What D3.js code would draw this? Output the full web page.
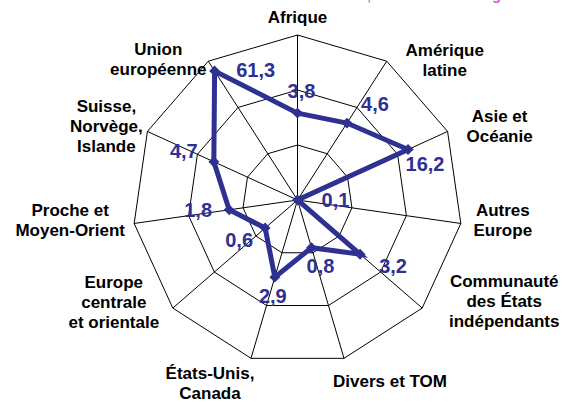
<!DOCTYPE html>
<html>
<head>
<meta charset="utf-8">
<script src="https://cdn.jsdelivr.net/npm/d3@7"></script>
<style>
  html, body { margin: 0; padding: 0; background: #fff; }
  svg text { font-family: "Liberation Sans", Arial, sans-serif; font-weight: bold; }
</style>
</head>
<body>
<div id="chart"></div>
<script>
const categories = [
  ["Afrique"],
  ["Amérique", "latine"],
  ["Asie et", "Océanie"],
  ["Autres", "Europe"],
  ["Communauté", "des États", "indépendants"],
  ["Divers et TOM"],
  ["États-Unis,", "Canada"],
  ["Europe", "centrale", "et orientale"],
  ["Proche et", "Moyen-Orient"],
  ["Suisse,", "Norvège,", "Islande"],
  ["Union", "européenne"]
];
const values = [3.8, 4.6, 16.2, 0.1, 3.2, 0.8, 2.9, 0.6, 1.8, 4.7, 61.3];
const valueLabels = ["3,8", "4,6", "16,2", "0,1", "3,2", "0,8", "2,9", "0,6", "1,8", "4,7", "61,3"];
const ringTicks = [1, 10, 100];
const titleText = "Destinations, en % de la valeur globale";

// layout: offsets of labels (block centre from outer vertex, value label from point)
const catOffsets = [[0, -18], [58, -1], [52, -5], [42, -3], [82, -7], [46, 23],
  [-41, 25], [-59, -6], [-64, -3], [-41, -5], [-50, -2]];
const valOffsets = [[4, -15], [28, -12], [17, 21], [38, 7], [33, 19], [9, 25],
  [-2, 26], [-26, 19], [-31, 7], [-30, -4], [41, 6]];

const width = 563, height = 402;
const cx = 297.5, cy = 200, R = 165;
const blue = "#2e3192";
const n = values.length;

const svg = d3.select("#chart").append("svg")
  .attr("width", width).attr("height", height);
svg.append("rect").attr("width", width).attr("height", height).attr("fill", "#fff");

const r = d3.scaleLog().domain([0.1, 100]).range([0, R]);
const angle = d3.scaleLinear().domain([0, n]).range([0, 2 * Math.PI]);
const px = (i, rad) => cx + rad * Math.sin(angle(i));
const py = (i, rad) => cy - rad * Math.cos(angle(i));

// title, cut off at the top like the source
svg.append("text")
  .attr("x", 283).attr("y", 0)
  .attr("font-size", 14)
  .attr("fill", "#c45ac8")
  .text(titleText);

// grid rings
const g = svg.append("g");
ringTicks.forEach(t => {
  const pts = d3.range(n).map(i => [px(i, r(t)), py(i, r(t))]);
  g.append("path")
    .attr("d", d3.line().curve(d3.curveLinearClosed)(pts))
    .attr("fill", "none").attr("stroke", "#000").attr("stroke-width", 1);
});
// spokes
d3.range(n).forEach(i => {
  g.append("line")
    .attr("x1", cx).attr("y1", cy)
    .attr("x2", px(i, R)).attr("y2", py(i, R))
    .attr("stroke", "#000").attr("stroke-width", 1);
});

// series
const line = d3.lineRadial()
  .angle((d, i) => angle(i))
  .radius(d => r(d))
  .curve(d3.curveLinearClosed);
svg.append("path")
  .attr("transform", `translate(${cx},${cy})`)
  .attr("d", line(values))
  .attr("fill", "none")
  .attr("stroke", blue)
  .attr("stroke-width", 5)
  .attr("stroke-linejoin", "miter");

svg.selectAll(".marker").data(values).join("path")
  .attr("class", "marker")
  .attr("d", d3.symbol(d3.symbolDiamond2, 75))
  .attr("transform", (d, i) => `translate(${px(i, r(d))},${py(i, r(d))})`)
  .attr("fill", blue);

// value labels
svg.selectAll(".val").data(values).join("text")
  .attr("class", "val")
  .attr("x", (d, i) => px(i, r(d)) + valOffsets[i][0])
  .attr("y", (d, i) => py(i, r(d)) + valOffsets[i][1])
  .attr("text-anchor", "middle")
  .attr("font-size", 20)
  .attr("fill", blue)
  .text((d, i) => valueLabels[i]);

// category labels
const lh = 20;
categories.forEach((lines, i) => {
  const bx = px(i, R) + catOffsets[i][0];
  const by = py(i, R) + catOffsets[i][1];
  const t = svg.append("text")
    .attr("text-anchor", "middle")
    .attr("font-size", 17)
    .attr("fill", "#000");
  lines.forEach((s, k) => {
    t.append("tspan")
      .attr("x", bx)
      .attr("y", by - (lines.length - 1) * lh / 2 + k * lh + 6)
      .text(s);
  });
});
</script>
</body>
</html>
